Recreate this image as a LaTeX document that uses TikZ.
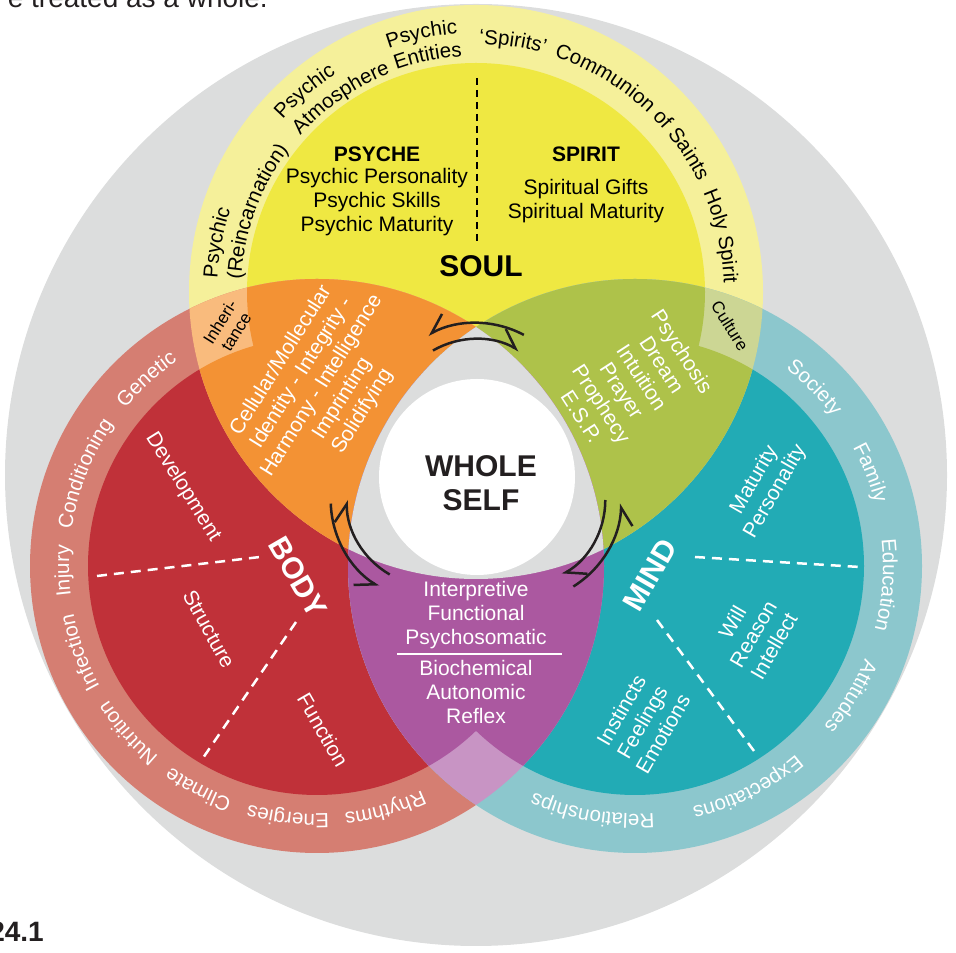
\documentclass[tikz,border=0pt]{standalone}
\usepackage{fontspec}
\setmainfont{Liberation Sans}
\usetikzlibrary{decorations.text,arrows.meta}
\definecolor{cgrey}{HTML}{DCDDDD}
\definecolor{soulring}{HTML}{F5F09A}
\definecolor{soulin}{HTML}{EFE842}
\definecolor{bodyring}{HTML}{D57E72}
\definecolor{bodyin}{HTML}{C03139}
\definecolor{mindring}{HTML}{8CC7CD}
\definecolor{mindin}{HTML}{22ABB5}
\definecolor{orangeA}{HTML}{F39234}
\definecolor{orangeL}{HTML}{F9BB7D}
\definecolor{oliveA}{HTML}{AEC24A}
\definecolor{oliveL}{HTML}{CCD694}
\definecolor{purpA}{HTML}{AB58A0}
\definecolor{purpL}{HTML}{C894C4}
\definecolor{inkblack}{HTML}{231F20}
\newcommand\fsA{\fontsize{21}{24}\selectfont}
\newcommand\fsBig{\fontsize{30}{34}\selectfont\bfseries}
\newcommand\fsSm{\fontsize{17}{19}\selectfont}
\newcommand\fsRing{\fontsize{20.5}{24}\selectfont}
\newcommand\fsTop{\fontsize{28}{32}\selectfont}
% arc text: center, radius, start, end, align, text
\newcommand\arctext[6]{\path[decorate,decoration={text along path,text align=#5,text={#6}}] (#1) ++(#3:#2pt) arc[start angle=#3,end angle=#4,radius=#2pt];}
% centred ring word: center, angle, text
\newcommand\ringword[3]{\path[decorate,decoration={text along path,text align=center,text={#3}}] (#1) ++({#2+45}:248pt) arc[start angle={#2+45},end angle={#2-45},radius=248pt];}
\tikzset{
  wt/.style={text=white,font=\fsA,align=center,inner sep=0pt},
  bk/.style={text=black,font=\fsA,align=center,inner sep=0pt},
  dashw/.style={draw=white,line width=2.5pt,dash pattern=on 10pt off 7pt},
  arr/.style={draw=inkblack,line width=2.5pt},
  outerharp/.style={-{Straight Barb[harpoon,swap,length=18pt,width=24pt]}},
  innerharp/.style={-{Straight Barb[harpoon,length=18pt,width=24pt]}}
}
\begin{document}
\begin{tikzpicture}[x=1pt,y=1pt]
\useasboundingbox (0,0) rectangle (956,953);
\clip (0,0) rectangle (956,953);
\coordinate (S) at (476,661);
\coordinate (B) at (317,387);
\coordinate (M) at (635,387);
\coordinate (G) at (476,478);
\coordinate (W) at (477,476);
% background
\fill[cgrey] (G) circle[radius=471pt];
\fill[soulring] (S) circle[radius=287pt];
\fill[soulin] (S) circle[radius=229pt];
\fill[bodyring] (B) circle[radius=287pt];
\fill[bodyin] (B) circle[radius=229pt];
\fill[mindring] (M) circle[radius=287pt];
\fill[mindin] (M) circle[radius=229pt];
% soul & body
\begin{scope}
\clip (S) circle[radius=287pt];
\clip (B) circle[radius=287pt];
\fill[orangeL] (0,0) rectangle (956,953);
\fill[orangeA] (S) circle[radius=229pt];
\fill[orangeA] (B) circle[radius=229pt];
\end{scope}
% soul & mind
\begin{scope}
\clip (S) circle[radius=287pt];
\clip (M) circle[radius=287pt];
\fill[oliveL] (0,0) rectangle (956,953);
\fill[oliveA] (S) circle[radius=229pt];
\fill[oliveA] (M) circle[radius=229pt];
\end{scope}
% body & mind
\begin{scope}
\clip (B) circle[radius=287pt];
\clip (M) circle[radius=287pt];
\fill[purpL] (0,0) rectangle (956,953);
\fill[purpA] (B) circle[radius=229pt];
\fill[purpA] (M) circle[radius=229pt];
\end{scope}
% centre
\begin{scope}
\clip (S) circle[radius=287pt];
\clip (B) circle[radius=287pt];
\fill[cgrey] (M) circle[radius=287pt];
\end{scope}
\fill[white] (W) circle[radius=98pt];

% top & bottom page text
\node[anchor=base east,font=\fsTop,text=inkblack,inner sep=0pt] (toptext) at (268,945) {e treated as a whole.};
\node[anchor=base east,font=\fsTop\bfseries,text=inkblack,inner sep=0pt] (fignum) at (44,11) {24.1};

% SOUL
\coordinate (sdashA) at (477,875);
\coordinate (sdashB) at (477,710);
\draw[black,line width=2.5pt,dash pattern=on 7pt off 5pt] (sdashA) -- (sdashB);
\node[bk,font=\fsA\bfseries] (psyche) at (377,799) {PSYCHE};
\node[bk] (psycheitems) at (377,751) {Psychic Personality\\Psychic Skills\\Psychic Maturity};
\node[bk,font=\fsA\bfseries] (spirit) at (586,799) {SPIRIT};
\node[bk] (spirititems) at (586,752) {Spiritual Gifts\\Spiritual Maturity};
\node[bk,font=\fsBig] (soul) at (481,687) {SOUL};
\arctext{S}{259}{177}{100}{left}{|\fsRing|Psychic}
\arctext{S}{235}{177}{100}{left}{|\fsRing|(Reincarnation)}
\arctext{S}{259}{138.3}{60}{left}{|\fsRing|Psychic}
\arctext{S}{235}{138.3}{60}{left}{|\fsRing|Atmosphere}
\arctext{S}{259}{109.7}{40}{left}{|\fsRing|Psychic}
\arctext{S}{236}{109.7}{40}{left}{|\fsRing|Entities}
\ringword{S}{81.6}{|\fsRing|‘Spirits’}
\ringword{S}{49}{|\fsRing|Communion of Saints}
\ringword{S}{12.8}{|\fsRing|Holy Spirit}

% overlap ring labels
\node[bk,font=\fsSm,rotate=58] (inherit) at (228,626) {Inheri-\\tance};
\node[bk,font=\fsSm,rotate=-58] (culture) at (730,627) {Culture};

% BODY
\node[wt,rotate=58] (bodysoul) at (322,567) {Cellular/Mollecular\\Identity - Integrity -\\Harmony - Intelligence\\Imprinting\\Solidifying};
\node[wt,rotate=-58] (development) at (183,466) {Development};
\node[wt,rotate=-61] (structure) at (209,324) {Structure};
\node[wt,rotate=-60] (function) at (323,223) {Function};
\node[wt,font=\fsBig,rotate=-60] (body) at (298,376) {BODY};
\coordinate (bdA) at (97,377);
\coordinate (bdB) at (260,396);
\coordinate (bdC) at (296,331);
\coordinate (bdD) at (203,195);
\draw[dashw] (bdA) -- (bdB);
\draw[dashw] (bdC) -- (bdD);
\ringword{B}{132.4}{|\fsRing\color{white}|Genetic}
\ringword{B}{158.3}{|\fsRing\color{white}|Conditioning}
\ringword{B}{181.1}{|\fsRing\color{white}|Injury}
\ringword{B}{200}{|\fsRing\color{white}|Infection}
\ringword{B}{221.5}{|\fsRing\color{white}|Nutrition}
\ringword{B}{242}{|\fsRing\color{white}|Climate}
\ringword{B}{263.4}{|\fsRing\color{white}|Energies}
\ringword{B}{285.7}{|\fsRing\color{white}|Rhythms}

% soul-mind
\node[wt,rotate=-57] (soulmind) at (632,569) {Psychosis\\Dream\\Intuition\\Prayer\\Prophecy\\E.S.P.};

% body-mind
\node[wt] (interp) at (476,338) {Interpretive\\Functional\\Psychosomatic};
\coordinate (plA) at (397,299);
\coordinate (plB) at (562,299);
\draw[white,line width=1.5pt] (plA) -- (plB);
\node[wt] (bioc) at (476,261) {Biochemical\\Autonomic\\Reflex};

% MIND
\node[wt,font=\fsBig,rotate=60] (mind) at (650,378) {MIND};
\node[wt,rotate=60] (matper) at (765,467) {Maturity\\Personality};
\node[wt,rotate=60] (will) at (753,319) {Will\\Reason\\Intellect};
\node[wt,rotate=60] (instincts) at (642,231) {Instincts\\Feelings\\Emotions};
\coordinate (mdA) at (695,396);
\coordinate (mdB) at (860,386);
\coordinate (mdC) at (657,333);
\coordinate (mdD) at (754,202);
\draw[dashw] (mdA) -- (mdB);
\draw[dashw] (mdC) -- (mdD);
\ringword{M}{44.8}{|\fsRing\color{white}|Society}
\ringword{M}{21.6}{|\fsRing\color{white}|Family}
\ringword{M}{-4.3}{|\fsRing\color{white}|Education}
\ringword{M}{-31.2}{|\fsRing\color{white}|Attitudes}
\ringword{M}{-63.1}{|\fsRing\color{white}|Expectations}
\ringword{M}{-99.8}{|\fsRing\color{white}|Relationships}

% WHOLE SELF
\node[font=\fsBig,align=center,text=inkblack,inner sep=0pt] (whole) at (481,470) {WHOLE\\SELF};

% arrows
\coordinate (Ct) at (476,528);
\coordinate (Cl) at (432.7,453);
\coordinate (Cr) at (519.3,453);
\draw[arr,outerharp] ([shift={(62:102pt)}]Ct) arc[start angle=62,end angle=118,radius=102pt];
\draw[arr,innerharp] ([shift={(120:86pt)}]Ct) arc[start angle=120,end angle=60,radius=86pt];
\draw[arr,outerharp] ([shift={(182:102pt)}]Cl) arc[start angle=182,end angle=238,radius=102pt];
\draw[arr,innerharp] ([shift={(240:86pt)}]Cl) arc[start angle=240,end angle=180,radius=86pt];
\draw[arr,outerharp] ([shift={(-58:102pt)}]Cr) arc[start angle=-58,end angle=-2,radius=102pt];
\draw[arr,innerharp] ([shift={(0:86pt)}]Cr) arc[start angle=0,end angle=-60,radius=86pt];
\end{tikzpicture}
\end{document}
